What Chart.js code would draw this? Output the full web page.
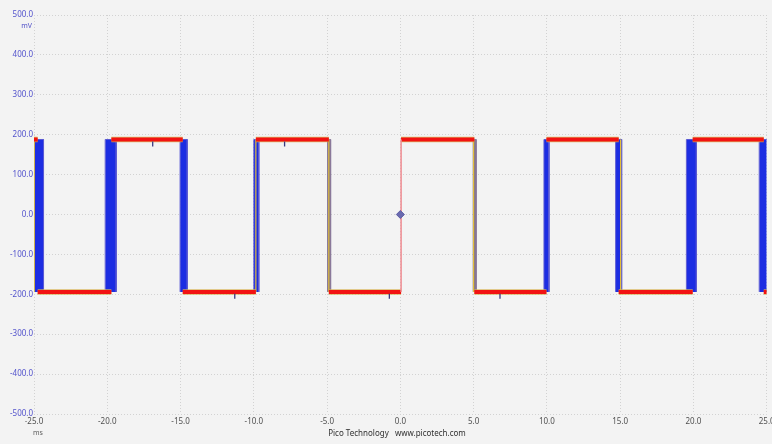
<!DOCTYPE html>
<html>
<head>
<meta charset="utf-8">
<script src="https://cdn.jsdelivr.net/npm/chart.js@4.4.1/dist/chart.umd.min.js"></script>
<style>
  html, body { margin: 0; padding: 0; background: #f3f3f3; }
  #wrap { width: 772px; height: 444px; }
</style>
</head>
<body>
<div id="wrap"><canvas id="c" width="772" height="444"></canvas></div>
<script>
// ---- data ----
const timeMin = -25, timeMax = 25;            // ms
const voltMin = -500, voltMax = 500;          // mV
const timeStep = 5, voltStep = 100;
const highLevel = 188;                        // mV
const lowLevel = -194;                        // mV
const startsHigh = true;
// transition times of the most frequent trace (ms)
const edgeTimes = [-24.75, -19.72, -14.85, -9.86, -4.88, 0.05, 5.05, 9.97, 14.90, 19.95, 24.80];
// jitter bands of the infrequent traces (ms)
const bandStart = [-25.00, -20.14, -15.03, -10.00, -4.97, 4.97, 9.80, 14.69, 19.52, 24.49];
const bandEnd   = [-24.35, -19.39, -14.54, -9.66, -4.76, 5.17, 10.14, 15.10, 20.20, 25.10];
// frequent (hot) edges inside the bands (ms)
const hotEdgeTimes = [-24.98, -9.86, -4.88, 5.00, 15.03];
// small glitches on the levels
const glitchTimes  = [-16.9, -7.9, -11.3, -0.75, 6.8];
const glitchValues = [177, 177, -205, -205, -205];
// trigger marker
const triggerTime = 0, triggerLevel = 0;
const xUnit = 'ms', yUnit = 'mV';
const footer = 'Pico Technology   www.picotech.com';

// ---- build datasets ----
function levelSegments() {
  const pts = [];
  let t0 = timeMin, lvl = startsHigh ? highLevel : lowLevel;
  for (const e of edgeTimes) {
    pts.push({x: t0, y: lvl}, {x: e, y: lvl}, {x: e, y: null});
    t0 = e; lvl = (lvl === highLevel) ? lowLevel : highLevel;
  }
  pts.push({x: t0, y: lvl}, {x: timeMax, y: lvl});
  return pts;
}
const bandSets = bandStart.map((s, i) => {
  const e = bandEnd[i];
  const narrow = (e - s) < 0.3;
  return {
    data: [{x: s, y: lowLevel}, {x: s, y: highLevel}, {x: e, y: highLevel}, {x: e, y: lowLevel}],
    borderColor: narrow ? '#8a7a9a' : '#5a5ad4',
    borderWidth: 1,
    backgroundColor: narrow ? '#7c6e8c' : '#1c2de2',
    fill: {value: lowLevel},
    pointRadius: 0,
    order: 6
  };
});
const hotPts = [];
hotEdgeTimes.forEach(t => { hotPts.push({x: t, y: lowLevel}, {x: t, y: highLevel}, {x: t, y: null}); });

const trigIdx = edgeTimes.findIndex(t => Math.abs(t - triggerTime) < 0.5);
const trigEdge = edgeTimes[trigIdx];

const datasets = [
  ...bandSets,
  { data: hotPts, borderColor: '#e2bf3c', borderWidth: 1.2, pointRadius: 0, spanGaps: false, fill: false, order: 5 },
  { data: levelSegments(), borderColor: 'rgba(214,176,80,0.85)', borderWidth: 5.5, pointRadius: 0, spanGaps: false, fill: false, order: 4, borderCapStyle: 'butt' },
  { data: levelSegments(), borderColor: '#f21212', borderWidth: 4, pointRadius: 0, spanGaps: false, fill: false, order: 3, borderCapStyle: 'butt' },
  { data: [{x: trigEdge, y: lowLevel}, {x: trigEdge, y: highLevel}], borderColor: '#ef8a90', borderWidth: 1.5, pointRadius: 0, fill: false, order: 2 },
  { type: 'scatter', data: glitchTimes.map((t, i) => ({x: t, y: glitchValues[i]})), pointStyle: 'line', rotation: 90,
    pointRadius: 2.5, borderColor: '#3a3a80', borderWidth: 1.3, order: 1 },
  { type: 'scatter', data: [{x: triggerTime, y: triggerLevel}], pointStyle: 'rectRot', pointRadius: 4,
    backgroundColor: '#6a6ab0', borderColor: '#5a5aa0', borderWidth: 1, order: 0 }
];

const extraText = {
  id: 'extraText',
  afterDraw(chart) {
    const ctx = chart.ctx, ca = chart.chartArea;
    ctx.save();
    ctx.textBaseline = 'middle';
    ctx.font = '7px "Noto Sans", sans-serif';
    ctx.fillStyle = '#5050c8';
    ctx.textAlign = 'right';
    ctx.fillText(yUnit, ca.left - 2, ca.top + 11);
    ctx.fillStyle = '#606060';
    ctx.textAlign = 'center';
    ctx.fillText(xUnit, ca.left + 4, 433);
    ctx.font = '8px "Noto Sans", sans-serif';
    ctx.fillStyle = '#303030';
    ctx.fillText(footer, 397, 434);
    ctx.restore();
  }
};

new Chart(document.getElementById('c'), {
  type: 'line',
  data: { datasets },
  options: {
    responsive: false,
    animation: false,
    devicePixelRatio: 1,
    layout: { padding: { top: 15, right: 4, left: 0, bottom: 0 } },
    plugins: { legend: { display: false }, tooltip: { enabled: false } },
    elements: { line: { tension: 0 } },
    scales: {
      x: {
        type: 'linear', min: timeMin, max: timeMax,
        ticks: { stepSize: timeStep, callback: v => v.toFixed(1), color: '#505050',
                 font: { family: '"Noto Sans", sans-serif', size: 8 }, padding: 3, maxRotation: 0, autoSkip: false },
        grid: { color: '#d2d2d2', drawTicks: false, lineWidth: 1 },
        border: { display: false, dash: [1, 2] },
        afterFit: s => { s.height = 30; s.paddingLeft = 0; s.paddingRight = 0; }
      },
      y: {
        type: 'linear', min: voltMin, max: voltMax,
        ticks: { stepSize: voltStep, callback: v => v.toFixed(1), color: '#5252cc',
                 font: { family: '"Noto Sans", sans-serif', size: 8 }, padding: 1 },
        grid: { color: '#d2d2d2', drawTicks: false, lineWidth: 1 },
        border: { display: false, dash: [1, 2] },
        afterFit: s => { s.width = 34; s.paddingTop = 0; s.paddingBottom = 0; }
      }
    }
  },
  plugins: [extraText]
});
</script>
</body>
</html>
